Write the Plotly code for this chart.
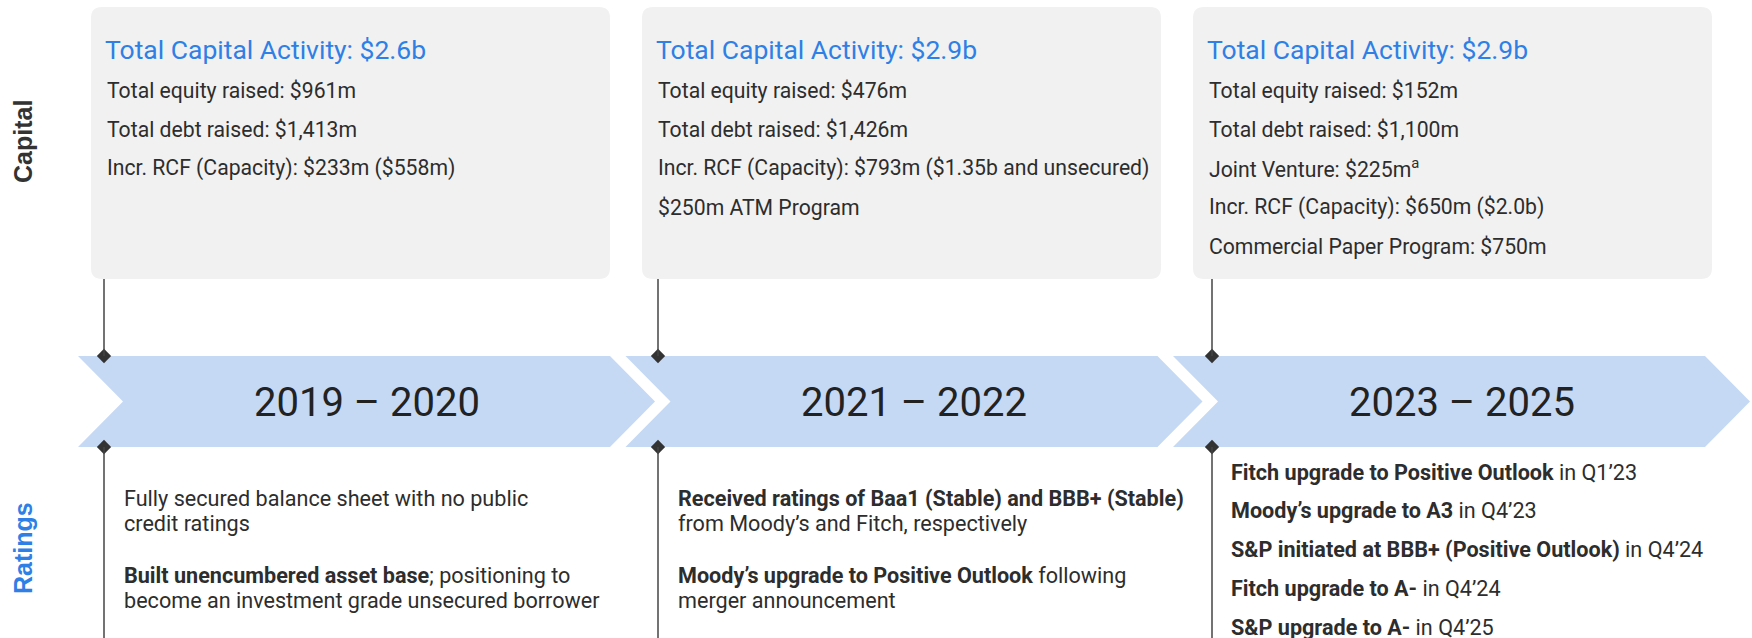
import plotly.graph_objects as go

W, H = 1752, 638

periods = ["2019 – 2020", "2021 – 2022", "2023 – 2025"]
capital_totals = ["$2.6b", "$2.9b", "$2.9b"]
capital_items = [
    ["Total equity raised: $961m",
     "Total debt raised: $1,413m",
     "Incr. RCF (Capacity): $233m ($558m)"],
    ["Total equity raised: $476m",
     "Total debt raised: $1,426m",
     "Incr. RCF (Capacity): $793m ($1.35b and unsecured)",
     "$250m ATM Program"],
    ["Total equity raised: $152m",
     "Total debt raised: $1,100m",
     "Joint Venture: $225m<sup>a</sup>",
     "Incr. RCF (Capacity): $650m ($2.0b)",
     "Commercial Paper Program: $750m"],
]
ratings_items = [
    [["Fully secured balance sheet with no public", "credit ratings"],
     ["<b>Built unencumbered asset base</b>; positioning to",
      "become an investment grade unsecured borrower"]],
    [["<b>Received ratings of Baa1 (Stable) and BBB+ (Stable)</b>",
      "from Moody’s and Fitch, respectively"],
     ["<b>Moody’s upgrade to Positive Outlook</b> following",
      "merger announcement"]],
    [["<b>Fitch upgrade to Positive Outlook</b> in Q1’23"],
     ["<b>Moody’s upgrade to A3</b> in Q4’23"],
     ["<b>S&P initiated at BBB+ (Positive Outlook)</b> in Q4’24"],
     ["<b>Fitch upgrade to A-</b> in Q4’24"],
     ["<b>S&P upgrade to A-</b> in Q4’25"]],
]

BLUE = "#2e7fe6"
TEXT = "#2d2d2d"
BAND = "#c5d9f5"
BOX = "#f1f1f1"
LINE = "#444444"
FONT = "Roboto, Arial, sans-serif"

# band geometry
band_top, band_bot = 356, 447
band_mid = (band_top + band_bot) / 2
notch = 45
band_w = 532

fig = go.Figure()
shapes = []
annotations = []


def rounded_box(x0, y0, x1, y1, r):
    return (f"M {x0+r},{y0} L {x1-r},{y0} Q {x1},{y0} {x1},{y0+r} "
            f"L {x1},{y1-r} Q {x1},{y1} {x1-r},{y1} L {x0+r},{y1} "
            f"Q {x0},{y1} {x0},{y1-r} L {x0},{y0+r} Q {x0},{y0} {x0+r},{y0} Z")


for i, period in enumerate(periods):
    # chevron
    left = 78 + i * 547.5
    xs = [left, left + band_w, left + band_w + notch, left + band_w, left, left + notch, left]
    ys = [band_top, band_top, band_mid, band_bot, band_bot, band_mid, band_top]
    fig.add_trace(go.Scatter(x=xs, y=ys, mode="lines", fill="toself",
                             fillcolor=BAND, line=dict(width=0),
                             hoverinfo="skip", showlegend=False))
    annotations.append(dict(x=left + notch + (band_w - notch) / 2, y=band_mid + 1,
                            text=period, showarrow=False, xanchor="center",
                            yanchor="middle",
                            font=dict(family=FONT, size=40, color="#222222")))

    # capital box
    bx0 = 91 + i * 551
    bx1 = bx0 + 519
    shapes.append(dict(type="path", path=rounded_box(bx0, 7, bx1, 279, 11),
                       fillcolor=BOX, line=dict(width=0), layer="below"))
    annotations.append(dict(x=bx0 + 12, y=49,
                            text="Total Capital Activity: " + capital_totals[i],
                            showarrow=False, xanchor="left", yanchor="middle",
                            font=dict(family=FONT, size=26.5, color=BLUE)))
    for j, item in enumerate(capital_items[i]):
        annotations.append(dict(x=bx0 + 14, y=90 + j * 39, text=item,
                                showarrow=False, xanchor="left", yanchor="middle",
                                font=dict(family=FONT, size=21.2, color=TEXT)))

    # connector lines and diamonds
    lx = 104 + i * 554
    shapes.append(dict(type="line", x0=lx, x1=lx, y0=279, y1=band_top,
                       line=dict(color=LINE, width=1.5)))
    shapes.append(dict(type="line", x0=lx, x1=lx, y0=band_bot, y1=H,
                       line=dict(color=LINE, width=1.5)))
    fig.add_trace(go.Scatter(x=[lx, lx], y=[band_top, band_bot], mode="markers",
                             marker=dict(symbol="diamond", size=11, color="#333333"),
                             hoverinfo="skip", showlegend=False))

    # ratings text
    if len(ratings_items[i]) > 2:
        start, para_gap, line_gap = 472, 38.8, 25
    else:
        start, para_gap, line_gap = 498, 77, 25.5
    tx = 122 + i * 553.5
    for p, para in enumerate(ratings_items[i]):
        for l, line in enumerate(para):
            annotations.append(dict(x=tx, y=start + p * para_gap + l * line_gap,
                                    text=line, showarrow=False, xanchor="left",
                                    yanchor="middle",
                                    font=dict(family=FONT, size=21.6, color=TEXT)))

annotations.append(dict(x=23, y=142, text="<b>Capital</b>", textangle=-90,
                        showarrow=False, xanchor="center", yanchor="middle",
                        font=dict(family="Liberation Sans, Arial, sans-serif",
                                  size=25, color="#333333")))
annotations.append(dict(x=23, y=548, text="<b>Ratings</b>", textangle=-90,
                        showarrow=False, xanchor="center", yanchor="middle",
                        font=dict(family="Liberation Sans, Arial, sans-serif",
                                  size=25, color=BLUE)))

fig.update_layout(
    width=W, height=H,
    margin=dict(l=0, r=0, t=0, b=0),
    paper_bgcolor="white", plot_bgcolor="white",
    xaxis=dict(range=[0, W], visible=False, fixedrange=True),
    yaxis=dict(range=[H, 0], visible=False, fixedrange=True),
    shapes=shapes, annotations=annotations,
    showlegend=False,
)

# drop the default page margin so the figure sits at the window's top-left
fig.write_html("out.html", config={"displayModeBar": False},
               post_script="document.body.style.margin='0';"
                           "document.body.style.overflow='hidden';")
